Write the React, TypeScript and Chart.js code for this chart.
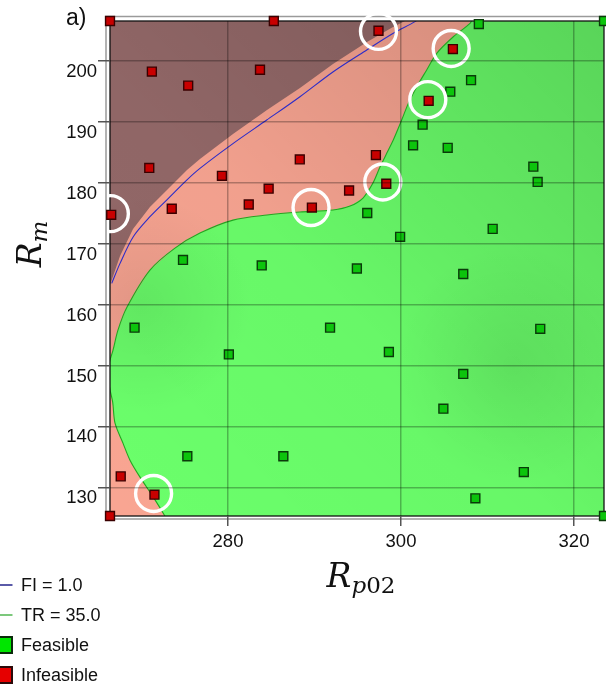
import React, { useEffect, useRef } from 'react';
import { Chart, registerables } from 'chart.js';

Chart.register(...registerables);

// ---------- data ----------
const X_RANGE = [266.36, 323.47];
const Y_RANGE = [125.3, 206.5];
const X_TICKS = [280, 300, 320];
const Y_TICKS = [130, 140, 150, 160, 170, 180, 190, 200];

const FEASIBLE_X = [309.0, 323.47, 308.1, 305.7, 302.5, 301.4, 305.4, 315.3, 315.8, 296.1, 299.9, 310.6, 307.2, 316.1, 307.2, 304.9, 286.4, 314.2, 308.6, 323.47, 275.3, 274.8, 269.2, 283.9, 294.9, 291.8, 280.1, 298.6];
const FEASIBLE_Y = [206.0, 206.5, 196.8, 194.9, 189.5, 186.1, 185.7, 182.6, 180.1, 175.0, 171.1, 172.4, 165.0, 156.0, 148.6, 142.9, 135.1, 132.5, 128.2, 125.3, 135.1, 167.3, 156.2, 166.4, 165.9, 156.2, 151.8, 152.2];

const INFEASIBLE_X = [266.36, 285.3, 297.4, 271.2, 275.4, 283.7, 270.9, 279.3, 288.3, 297.1, 298.3, 284.7, 294.0, 273.5, 266.5, 282.4, 289.7, 306.0, 303.2, 267.6, 271.5, 266.36];
const INFEASIBLE_Y = [206.5, 206.5, 204.9, 198.2, 195.9, 198.5, 182.4, 181.1, 183.8, 184.5, 179.8, 179.0, 178.7, 175.7, 174.7, 176.4, 175.9, 201.9, 193.4, 131.8, 128.8, 125.3];

const HIGHLIGHT_X = [297.4, 305.8, 303.1, 297.9, 289.6, 266.4, 271.4];
const HIGHLIGHT_Y = [204.8, 202.0, 193.6, 180.1, 175.9, 174.9, 129.0];

// FI = 1.0 contour
const FI_X = [266.56, 267.52, 269.05, 270.98, 272.91, 275.23, 276.76, 280.61, 284.48, 288.32, 292.17, 296.04, 299.11, 301.62, 302.0];
const FI_Y = [163.46, 166.74, 171.11, 174.39, 177.13, 180.41, 182.33, 186.43, 190.25, 194.08, 198.18, 201.74, 204.48, 206.4, 206.9];

// FI > 1 shaded region boundary (coarse grid)
const FI_SHADE_X = [266.0, 266.36, 267.52, 269.02, 270.98, 272.95, 275.26, 276.76, 280.58, 284.51, 288.32, 292.14, 296.07, 299.08, 300.46, 300.8, 266.0];
const FI_SHADE_Y = [163.0, 163.18, 167.94, 172.37, 175.98, 178.77, 182.05, 183.86, 187.96, 191.9, 195.51, 199.44, 203.05, 205.52, 206.5, 207.5, 207.5];

// TR = 35.0 contour
const TR_X = [273.07, 272.72, 271.22, 269.83, 268.67, 267.86, 266.94, 266.67, 266.3, 266.2, 266.3, 266.71, 267.28, 268.33, 270.98, 273.87, 276.76, 280.58, 284.51, 288.32, 292.14, 294.11, 295.61, 296.76, 297.57, 298.35, 299.11, 300.08, 300.85, 301.82, 302.97, 304.13, 306.05, 307.98, 308.3];
const TR_Y = [124.3, 125.27, 128.72, 131.67, 134.46, 137.25, 140.53, 143.98, 146.5, 148.5, 150.5, 152.51, 155.79, 159.57, 165.64, 169.25, 171.71, 173.84, 174.67, 175.16, 175.49, 176.14, 177.46, 179.92, 182.54, 184.79, 186.97, 190.25, 192.99, 195.72, 198.46, 201.2, 203.92, 206.12, 207.0];
// corners closing the TR <= 35 region (top-right, bottom-right)
const TR_REGION_CLOSE_X = [324.5, 324.5];
const TR_REGION_CLOSE_Y = [207.5, 124.3];

const LEGEND_ORDER = ['FI = 1.0', 'TR = 35.0', 'Feasible', 'Infeasible'];
const PANEL_LABEL = 'a)';
const X_TITLE = ['R', 'p', '02'];
const Y_TITLE = ['R', 'm'];

// ---------- styles ----------
const SALMON = '#f9a592';
const BROWN = '#946969';
const GREEN = '#6bff6b';
const SANS = '"Liberation Sans", Arial, sans-serif';
const SERIF = '"DejaVu Serif", serif';

const zip = (xs: number[], ys: number[]) => xs.map((x, i) => ({ x, y: ys[i] }));

const IDX_TR = 4;
const IDX_FEAS = 2;

const decorPlugin = {
  id: 'decor',
  beforeDatasetsDraw(chart: any) {
    const { ctx, chartArea: a } = chart;
    ctx.save();
    ctx.fillStyle = SALMON;
    ctx.fillRect(a.left, a.top, a.right - a.left, a.bottom - a.top);
    ctx.restore();
  },
  beforeDatasetDraw(chart: any, args: any) {
    const { ctx, chartArea: a, scales } = chart;
    if (args.index === IDX_TR) {
      ctx.save();
      ctx.beginPath();
      ctx.rect(a.left, a.top, a.right - a.left, a.bottom - a.top);
      ctx.clip();
      const g = ctx.createLinearGradient(a.left, a.bottom, a.right, a.top);
      g.addColorStop(0, 'rgba(0,0,0,0)');
      g.addColorStop(0.45, 'rgba(0,0,0,0.03)');
      g.addColorStop(1, 'rgba(0,0,0,0.17)');
      ctx.fillStyle = g;
      ctx.fillRect(a.left, a.top, a.right - a.left, a.bottom - a.top);
      const spots = [
        [scales.x.getPixelForValue(313), scales.y.getPixelForValue(150), 120, 0.07],
        [scales.x.getPixelForValue(270), scales.y.getPixelForValue(160), 110, 0.08],
      ];
      for (const [cx, cy, r, al] of spots) {
        const rg = ctx.createRadialGradient(cx, cy, 0, cx, cy, r);
        rg.addColorStop(0, `rgba(0,0,0,${al})`);
        rg.addColorStop(1, 'rgba(0,0,0,0)');
        ctx.fillStyle = rg;
        ctx.fillRect(cx - r, cy - r, 2 * r, 2 * r);
      }
      ctx.restore();
    }
    if (args.index === IDX_FEAS) {
      // double frame
      ctx.save();
      ctx.strokeStyle = '#9a9a9a';
      ctx.lineWidth = 1.5;
      ctx.strokeRect(a.left - 4, a.top - 4.5, a.right - a.left + 8, a.bottom - a.top + 7.5);
      ctx.strokeStyle = '#111';
      ctx.lineWidth = 1.3;
      ctx.strokeRect(a.left, a.top, a.right - a.left, a.bottom - a.top);
      ctx.restore();
    }
  },
  afterDraw(chart: any) {
    const { ctx } = chart;
    ctx.save();
    ctx.fillStyle = '#111';
    ctx.textAlign = 'left';
    ctx.textBaseline = 'alphabetic';
    ctx.font = `23px ${SANS}`;
    ctx.fillText(PANEL_LABEL, 66, 25);

    // x title
    const big = `italic 33px ${SERIF}`;
    const subI = `italic 23px ${SERIF}`;
    const subU = `23px ${SERIF}`;
    ctx.font = big;
    const wR = ctx.measureText(X_TITLE[0]).width;
    ctx.font = subI;
    const wp = ctx.measureText(X_TITLE[1]).width;
    ctx.font = subU;
    const w02 = ctx.measureText(X_TITLE[2]).width;
    let x = 361 - (wR + wp + w02) / 2;
    const base = 587;
    ctx.font = big;
    ctx.fillText(X_TITLE[0], x, base);
    x += wR;
    ctx.font = subI;
    ctx.fillText(X_TITLE[1], x, base + 6);
    x += wp;
    ctx.font = subU;
    ctx.fillText(X_TITLE[2], x, base + 6);

    // y title
    ctx.font = big;
    const wRy = ctx.measureText(Y_TITLE[0]).width;
    ctx.font = subI;
    const wm = ctx.measureText(Y_TITLE[1]).width;
    ctx.translate(41, 244 + (wRy + wm) / 2);
    ctx.rotate(-Math.PI / 2);
    ctx.font = big;
    ctx.fillText(Y_TITLE[0], 0, 0);
    ctx.font = subI;
    ctx.fillText(Y_TITLE[1], wRy, 6);
    ctx.restore();

    // legend
    ctx.save();
    const ds = chart.data.datasets;
    LEGEND_ORDER.forEach((label, i) => {
      const d = ds.find((s: any) => s.label === label);
      if (!d) return;
      const cy = 585 + i * 30;
      if (d.legendKind === 'line') {
        ctx.strokeStyle = d.legendColor;
        ctx.lineWidth = 2;
        ctx.beginPath();
        ctx.moveTo(-10, cy);
        ctx.lineTo(12.5, cy);
        ctx.stroke();
      } else {
        ctx.fillStyle = d.legendColor;
        ctx.fillRect(-4, cy - 8, 16, 16);
        ctx.strokeStyle = d.legendBorder;
        ctx.lineWidth = 2;
        ctx.strokeRect(-4, cy - 8, 16, 16);
      }
      ctx.fillStyle = '#111';
      ctx.font = `18px ${SANS}`;
      ctx.textBaseline = 'middle';
      ctx.textAlign = 'left';
      ctx.fillText(label, 21, cy + 1);
    });
    ctx.restore();
  },
};

export default function App() {
  const ref = useRef<HTMLCanvasElement>(null);
  useEffect(() => {
    const canvas = ref.current;
    if (!canvas) return;
    const tickFont = { family: SANS, size: 18.5 };
    const grid = { color: 'rgba(0,0,0,0.28)', lineWidth: 1.5, tickColor: '#555', z: 1 };
    const chart = new Chart(canvas, {
      type: 'scatter',
      data: {
        datasets: [
          {
            label: 'highlight',
            data: zip(HIGHLIGHT_X, HIGHLIGHT_Y),
            pointStyle: 'circle',
            pointRadius: 18,
            pointBorderWidth: 3.4,
            pointBorderColor: '#ffffff',
            pointBackgroundColor: 'rgba(0,0,0,0)',
            clip: { left: 3, top: 30, right: 30, bottom: 30 },
          } as any,
          {
            label: 'Infeasible',
            data: zip(INFEASIBLE_X, INFEASIBLE_Y),
            pointStyle: 'rect',
            pointRadius: 6.3,
            pointBorderWidth: 1.4,
            pointBackgroundColor: '#c80000',
            pointBorderColor: '#3a0000',
            clip: false,
            legendKind: 'box',
            legendColor: '#e60000',
            legendBorder: '#2a0a0a',
          } as any,
          {
            label: 'Feasible',
            data: zip(FEASIBLE_X, FEASIBLE_Y),
            pointStyle: 'rect',
            pointRadius: 6.3,
            pointBorderWidth: 1.4,
            pointBackgroundColor: '#0cc40c',
            pointBorderColor: '#0a3a0a',
            clip: false,
            legendKind: 'box',
            legendColor: '#00e600',
            legendBorder: '#0a2a0a',
          } as any,
          {
            type: 'line',
            label: 'FI = 1.0',
            data: zip(FI_X, FI_Y),
            borderColor: '#2c2cc8',
            borderWidth: 1.1,
            pointRadius: 0,
            tension: 0.3,
            fill: false,
            legendKind: 'line',
            legendColor: '#5a5aa8',
          } as any,
          {
            type: 'line',
            label: 'TR = 35.0',
            data: zip(TR_X, TR_Y),
            borderColor: '#20a820',
            borderWidth: 1.1,
            pointRadius: 0,
            tension: 0.3,
            fill: false,
            legendKind: 'line',
            legendColor: '#7cc87c',
          } as any,
          {
            type: 'line',
            label: 'FI > 1 region',
            data: zip(FI_SHADE_X, FI_SHADE_Y),
            borderWidth: 0,
            borderColor: 'rgba(0,0,0,0)',
            backgroundColor: BROWN,
            pointRadius: 0,
            tension: 0,
            fill: 'shape',
          } as any,
          {
            type: 'line',
            label: 'TR region',
            data: zip([...TR_X, ...TR_REGION_CLOSE_X], [...TR_Y, ...TR_REGION_CLOSE_Y]),
            borderWidth: 0,
            borderColor: 'rgba(0,0,0,0)',
            backgroundColor: GREEN,
            pointRadius: 0,
            tension: 0,
            fill: 'shape',
          } as any,
        ],
      },
      options: {
        responsive: false,
        animation: false,
        events: [],
        layout: { autoPadding: false, padding: { top: 21, right: 2, left: 0, bottom: 0 } },
        plugins: { legend: { display: false }, tooltip: { enabled: false }, title: { display: false } },
        scales: {
          x: {
            type: 'linear',
            min: X_RANGE[0],
            max: X_RANGE[1],
            afterBuildTicks: (s: any) => { s.ticks = X_TICKS.map((v) => ({ value: v })); },
            afterFit: (s: any) => { s.height = 170; },
            ticks: { font: tickFont, color: '#111', padding: 5, maxRotation: 0, autoSkip: false },
            grid: { ...grid, tickLength: 10 },
            border: { display: false },
          },
          y: {
            type: 'linear',
            min: Y_RANGE[0],
            max: Y_RANGE[1],
            afterBuildTicks: (s: any) => { s.ticks = Y_TICKS.map((v) => ({ value: v })); },
            afterFit: (s: any) => { s.width = 110; },
            ticks: { font: tickFont, color: '#111', padding: 1, labelOffset: 11, autoSkip: false },
            grid: { ...grid, tickLength: 12 },
            border: { display: false },
          },
        },
      } as any,
      plugins: [decorPlugin],
    });
    return () => chart.destroy();
  }, []);
  return (
    <div style={{ position: 'absolute', left: 0, top: 0, width: 606, height: 686 }}>
      <canvas ref={ref} width={606} height={686} style={{ display: 'block', width: 606, height: 686 }} />
    </div>
  );
}
